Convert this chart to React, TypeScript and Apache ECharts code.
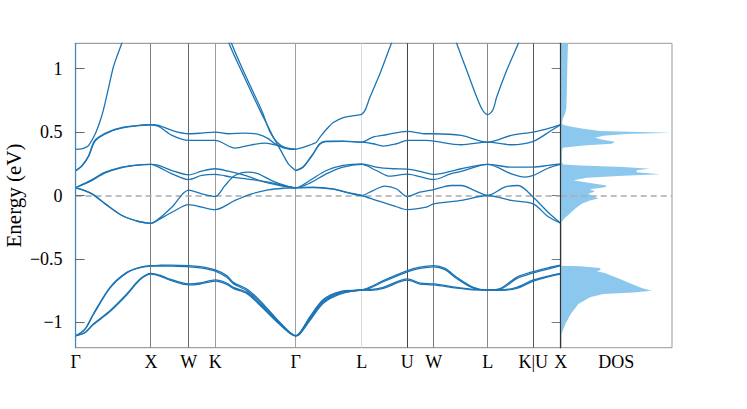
import React, { useEffect, useRef } from 'react';
import * as echarts from 'echarts';

// ---------- data ----------
const kTicks = [0, 0.754, 1.131, 1.397, 2.201, 2.861, 3.317, 3.581, 4.121, 4.577, 4.851];
const kLabels = ['Γ', 'X', 'W', 'K', 'Γ', 'L', 'U', 'W', 'L', 'K|U', 'X'];
const energyTicks = [-1, -0.5, 0, 0.5, 1];

const lowUpperA = [[0,-1.106],[0.094,-1.053],[0.177,-0.934],[0.344,-0.724],[0.511,-0.606],[0.644,-0.566],[0.754,-0.553],[0.85,-0.550],[0.95,-0.549],[1.131,-0.553],[1.244,-0.561],[1.397,-0.587],[1.511,-0.632],[1.577,-0.685],[1.711,-0.737],[1.844,-0.829],[2.011,-0.974],[2.144,-1.08],[2.201,-1.106],[2.244,-1.08],[2.344,-0.955],[2.477,-0.82],[2.644,-0.757],[2.861,-0.745],[2.944,-0.722],[3.077,-0.671],[3.317,-0.592],[3.444,-0.565],[3.581,-0.553],[3.694,-0.575],[3.811,-0.645],[3.977,-0.724],[4.121,-0.745],[4.244,-0.735],[4.411,-0.645],[4.577,-0.60],[4.724,-0.57],[4.851,-0.55]];
const lowUpperB = [[0,-1.106],[0.094,-1.055],[0.177,-0.94],[0.344,-0.73],[0.511,-0.61],[0.644,-0.569],[0.754,-0.556],[0.85,-0.556],[0.95,-0.557],[1.131,-0.562],[1.244,-0.57],[1.397,-0.596],[1.511,-0.645],[1.577,-0.695],[1.711,-0.75],[1.844,-0.842],[2.011,-0.982],[2.144,-1.083],[2.201,-1.106],[2.244,-1.083],[2.344,-0.965],[2.477,-0.83],[2.644,-0.764],[2.861,-0.745],[2.944,-0.73],[3.077,-0.68],[3.317,-0.602],[3.444,-0.575],[3.581,-0.563],[3.694,-0.585],[3.811,-0.655],[3.977,-0.73],[4.121,-0.745],[4.244,-0.74],[4.411,-0.655],[4.577,-0.61],[4.724,-0.58],[4.851,-0.553]];
const lowLowerA = [[0,-1.106],[0.094,-1.08],[0.177,-1.013],[0.344,-0.908],[0.511,-0.776],[0.644,-0.658],[0.754,-0.614],[0.85,-0.63],[0.944,-0.66],[1.131,-0.697],[1.244,-0.69],[1.397,-0.666],[1.511,-0.69],[1.577,-0.724],[1.711,-0.764],[1.844,-0.856],[2.011,-0.987],[2.144,-1.085],[2.201,-1.106],[2.244,-1.088],[2.344,-0.975],[2.477,-0.84],[2.644,-0.772],[2.861,-0.745],[2.944,-0.742],[3.077,-0.724],[3.317,-0.658],[3.444,-0.69],[3.581,-0.697],[3.811,-0.724],[3.977,-0.74],[4.121,-0.745],[4.244,-0.745],[4.411,-0.724],[4.577,-0.666],[4.724,-0.635],[4.851,-0.614]];
const lowLowerB = [[0,-1.106],[0.094,-1.082],[0.177,-1.018],[0.344,-0.915],[0.511,-0.785],[0.644,-0.665],[0.754,-0.62],[0.85,-0.637],[0.944,-0.668],[1.131,-0.705],[1.244,-0.698],[1.397,-0.675],[1.511,-0.7],[1.577,-0.732],[1.711,-0.772],[1.844,-0.865],[2.011,-0.995],[2.144,-1.088],[2.201,-1.106],[2.244,-1.09],[2.344,-0.985],[2.477,-0.85],[2.644,-0.778],[2.861,-0.745],[2.944,-0.748],[3.077,-0.732],[3.317,-0.668],[3.444,-0.698],[3.581,-0.705],[3.811,-0.73],[3.977,-0.743],[4.121,-0.745],[4.244,-0.748],[4.411,-0.732],[4.577,-0.675],[4.724,-0.642],[4.851,-0.62]];

const midA = [[0,0.061],[0.131,0.111],[0.297,0.184],[0.464,0.224],[0.631,0.242],[0.754,0.245],[0.831,0.237],[0.964,0.197],[1.131,0.163],[1.261,0.192],[1.397,0.211],[1.527,0.192],[1.694,0.158],[1.894,0.105],[2.094,0.071],[2.201,0.061],[2.341,0.118],[2.507,0.197],[2.674,0.237],[2.859,0.25],[3.007,0.224],[3.174,0.211],[3.317,0.208],[3.444,0.19],[3.581,0.166],[3.75,0.19],[3.857,0.211],[4.119,0.245],[4.357,0.224],[4.577,0.224],[4.724,0.237],[4.851,0.25]];
const midB = [[0,0.061],[0.131,0.105],[0.297,0.178],[0.464,0.22],[0.631,0.24],[0.754,0.245],[0.831,0.224],[0.964,0.171],[1.131,0.126],[1.261,0.158],[1.397,0.166],[1.561,0.145],[1.761,0.126],[1.927,0.105],[2.094,0.075],[2.201,0.061],[2.341,0.097],[2.507,0.171],[2.674,0.224],[2.859,0.245],[3.007,0.197],[3.141,0.152],[3.317,0.168],[3.507,0.135],[3.581,0.126],[3.75,0.17],[3.857,0.19],[4.119,0.245],[4.357,0.171],[4.491,0.145],[4.577,0.158],[4.724,0.215],[4.851,0.245]];
const midC = [[0,0.061],[0.064,0.047],[0.164,0.013],[0.297,-0.066],[0.464,-0.158],[0.631,-0.205],[0.754,-0.219],[0.831,-0.184],[0.964,-0.09],[1.131,0.042],[1.261,0.013],[1.397,-0.008],[1.494,0.079],[1.594,0.158],[1.727,0.184],[1.827,0.171],[1.961,0.118],[2.094,0.079],[2.201,0.061],[2.374,0.066],[2.574,0.053],[2.707,0.026],[2.859,0.0],[2.974,0.039],[3.091,0.074],[3.207,0.053],[3.317,-0.008],[3.441,0.026],[3.581,0.047],[3.757,0.079],[3.857,0.079],[3.991,0.039],[4.119,0.0],[4.291,0.066],[4.424,0.079],[4.577,-0.013],[4.724,-0.132],[4.851,-0.219]];
const midD = [[0,0.061],[0.064,0.047],[0.164,0.013],[0.297,-0.066],[0.464,-0.158],[0.631,-0.205],[0.754,-0.219],[0.831,-0.19],[0.964,-0.132],[1.131,-0.072],[1.261,-0.092],[1.397,-0.111],[1.594,-0.039],[1.761,0.013],[1.927,0.045],[2.094,0.058],[2.201,0.061],[2.374,0.062],[2.574,0.05],[2.707,0.025],[2.859,0.0],[3.007,-0.039],[3.174,-0.079],[3.317,-0.111],[3.507,-0.092],[3.581,-0.066],[3.857,-0.039],[4.119,0.0],[4.357,-0.039],[4.577,-0.066],[4.724,-0.166],[4.851,-0.219]];

const upSteepGX = [[0,0.363],[0.06,0.368],[0.1,0.38],[0.131,0.395],[0.197,0.487],[0.247,0.592],[0.277,0.671],[0.327,0.84],[0.377,1.011],[0.414,1.098],[0.461,1.198],[0.5,1.29]];
const upA = [[0,0.195],[0.064,0.237],[0.131,0.316],[0.181,0.421],[0.231,0.461],[0.364,0.513],[0.497,0.54],[0.631,0.553],[0.754,0.558],[0.831,0.553],[0.964,0.513],[1.131,0.487],[1.261,0.492],[1.397,0.5],[1.527,0.487],[1.694,0.492],[1.827,0.482],[1.927,0.448],[1.994,0.408],[2.094,0.377],[2.201,0.363]];
const upB = [[0,0.195],[0.064,0.232],[0.131,0.31],[0.181,0.41],[0.231,0.455],[0.364,0.51],[0.497,0.537],[0.631,0.551],[0.754,0.558],[0.831,0.545],[0.964,0.474],[1.131,0.434],[1.261,0.434],[1.397,0.434],[1.594,0.374],[1.761,0.40],[1.894,0.413],[1.994,0.40],[2.094,0.372],[2.201,0.363]];
const steepKG1 = [[1.504,1.3],[1.534,1.2],[1.689,0.93],[1.844,0.671],[1.927,0.54],[1.977,0.461],[2.061,0.342],[2.127,0.25],[2.164,0.221],[2.201,0.197]];
const steepKG2 = [[1.53,1.3],[1.559,1.2],[1.714,0.92],[1.864,0.665],[1.944,0.50],[2.014,0.42],[2.094,0.378],[2.201,0.363]];
const upGL = [[2.201,0.363],[2.311,0.39],[2.407,0.42],[2.444,0.461],[2.507,0.52],[2.577,0.575],[2.677,0.614],[2.78,0.63],[2.859,0.64],[2.894,0.671],[2.944,0.776],[3.044,0.961],[3.144,1.171],[3.2,1.28]];
const upC = [[2.201,0.197],[2.274,0.224],[2.374,0.329],[2.441,0.408],[2.507,0.429],[2.674,0.429],[2.859,0.421],[2.974,0.461],[3.107,0.479],[3.317,0.506],[3.507,0.487],[3.581,0.487],[3.857,0.474],[4.119,0.421],[4.357,0.474],[4.577,0.50],[4.724,0.527],[4.851,0.558]];
const upD = [[2.201,0.197],[2.274,0.222],[2.374,0.325],[2.441,0.403],[2.507,0.425],[2.674,0.427],[2.859,0.421],[2.974,0.408],[3.074,0.39],[3.207,0.408],[3.317,0.434],[3.507,0.434],[3.581,0.429],[3.857,0.40],[4.119,0.421],[4.357,0.40],[4.577,0.427],[4.757,0.513],[4.851,0.558]];
const upParabola = [[3.78,1.27],[3.811,1.198],[3.911,0.987],[4.011,0.776],[4.071,0.672],[4.121,0.637],[4.171,0.672],[4.211,0.776],[4.311,0.987],[4.427,1.198],[4.46,1.27]];

const bands = [lowUpperA, lowUpperB, lowLowerA, lowLowerB, midA, midB, midC, midD, upSteepGX, upA, upB, steepKG1, steepKG2, upGL, upC, upD, upParabola];

// DOS: [energy (eV), density (arb.)]
const dosCurve = [[1.2,0.66],[1.04,0.6],[0.908,0.57],[0.777,0.54],[0.685,0.51],[0.645,0.39],[0.606,0.18],[0.571,0.12],[0.558,0.18],[0.545,0.84],[0.527,2.04],[0.508,3.53],[0.495,9.97],[0.484,5.93],[0.471,3.83],[0.455,3.08],[0.442,3.68],[0.424,4.88],[0.408,4.58],[0.395,2.04],[0.377,0.18],[0.329,0.09],[0.264,0.09],[0.245,0.24],[0.237,1.74],[0.224,5.63],[0.211,8.02],[0.2,6.83],[0.184,6.83],[0.168,8.92],[0.155,5.63],[0.14,2.34],[0.121,1.14],[0.103,2.34],[0.079,4.13],[0.066,3.98],[0.05,2.63],[0.032,3.08],[0.013,2.49],[-0.005,2.93],[-0.024,3.38],[-0.04,2.63],[-0.066,1.89],[-0.105,1.29],[-0.145,0.78],[-0.184,0.3],[-0.219,0],[-0.553,0],[-0.558,1.74],[-0.571,3.53],[-0.587,3.59],[-0.598,3.23],[-0.611,3.98],[-0.632,4.58],[-0.658,5.33],[-0.698,6.38],[-0.729,7.28],[-0.75,8.17],[-0.764,6.53],[-0.777,3.83],[-0.803,2.63],[-0.856,1.59],[-0.935,0.9],[-1.014,0.42],[-1.08,0.12],[-1.106,0]];

// ---------- styles ----------
const FONT = 'Liberation Serif';
const BAND_COLOR = '#1b75b5';
const DOS_COLOR = '#8cc8ee';
const symLineColors = ['', '#808080', '#666666', '#9a9a9a', '#a0a0a0', '#dcdcdc', '#444444', '#777777', '#888888', '#555555', ''];

function fmtE(v: number) {
  return v < 0 ? '\u2212' + Math.abs(v) : String(v);
}
function kLabel(v: number) {
  let best = 0;
  for (let i = 1; i < kTicks.length; i++) if (Math.abs(kTicks[i] - v) < Math.abs(kTicks[best] - v)) best = i;
  return kLabels[best];
}

export default function App() {
  const ref = useRef<HTMLDivElement>(null);
  useEffect(() => {
    const chart = echarts.init(ref.current!, null, { renderer: 'svg' });
    const kMax = kTicks[kTicks.length - 1];
    const symLines = kTicks
      .map((k, i) => ({ k, c: symLineColors[i] }))
      .filter((d) => d.c)
      .map((d) => ({ xAxis: d.k, lineStyle: { color: d.c, width: 1, type: 'solid' } }));

    const txt = { fontFamily: FONT, fontWeight: 'normal', color: '#000' };
    const option: any = {
      animation: false,
      backgroundColor: '#ffffff',
      textStyle: { fontFamily: FONT, fontWeight: 'normal' },
      grid: [
        { left: 75.6, top: 43.3, width: 485.1, height: 304.4, show: true, borderColor: '#888', borderWidth: 1, containLabel: false, outerBoundsMode: 'none' },
        { left: 560.7, top: 43.3, width: 111.3, height: 304.4, show: true, borderColor: '#999', borderWidth: 1, containLabel: false, outerBoundsMode: 'none' },
      ],
      xAxis: [
        {
          gridIndex: 0, type: 'value', min: 0, max: kMax,
          axisLine: { show: false },
          axisTick: { show: false },
          splitLine: { show: false },
          axisLabel: {
            customValues: kTicks, formatter: (v: number) => kLabel(v),
            ...txt, fontSize: 18, margin: 5, hideOverlap: false,
          },
        },
        {
          gridIndex: 1, type: 'value', min: 0, max: 10,
          axisLine: { show: false }, axisTick: { show: false }, axisLabel: { show: false }, splitLine: { show: false },
          name: 'DOS', nameLocation: 'middle', nameGap: 5, nameMoveOverlap: false,
          nameTextStyle: { ...txt, fontSize: 18, verticalAlign: 'top' },
        },
      ],
      yAxis: [
        {
          gridIndex: 0, type: 'value', min: -1.2, max: 1.2, position: 'left', z: 5,
          axisLine: { show: true, lineStyle: { color: '#3b87c2', width: 1.2 } },
          axisTick: { show: true, inside: true, length: 9, customValues: energyTicks, lineStyle: { color: '#666' } },
          axisLabel: { customValues: energyTicks, formatter: fmtE, ...txt, fontSize: 18, margin: 13 },
          splitLine: { show: false },
          name: 'Energy (eV)', nameLocation: 'middle', nameGap: 51, nameRotate: 90, nameMoveOverlap: false,
          nameTextStyle: { ...txt, fontSize: 21 },
        },
        {
          gridIndex: 0, type: 'value', min: -1.2, max: 1.2, position: 'right',
          axisLine: { show: false },
          axisTick: { show: true, inside: true, length: 9, customValues: energyTicks, lineStyle: { color: '#777' } },
          axisLabel: { show: false }, splitLine: { show: false },
        },
        {
          gridIndex: 1, type: 'value', min: -1.2, max: 1.2, position: 'left', z: 5,
          axisLine: { show: true, lineStyle: { color: '#333', width: 1.2 } },
          axisTick: { show: false }, axisLabel: { show: false }, splitLine: { show: false },
        },
      ],
      series: [
        {
          type: 'line', xAxisIndex: 0, yAxisIndex: 0, data: [], silent: true, z: 1,
          markLine: {
            silent: true, symbol: 'none', z: 1, animation: false, label: { show: false },
            data: [
              ...symLines,
              { yAxis: 0, lineStyle: { color: '#aaaaaa', width: 1.5, type: [6, 4] } },
            ],
          },
        },
        {
          type: 'line', xAxisIndex: 1, yAxisIndex: 2, data: [], silent: true, z: 1,
          markLine: {
            silent: true, symbol: 'none', z: 3, animation: false, label: { show: false },
            data: [{ yAxis: 0, lineStyle: { color: '#aaaaaa', width: 1.5, type: [6, 4] } }],
          },
        },
        {
          type: 'custom', xAxisIndex: 1, yAxisIndex: 2, z: 2, silent: true, clip: true,
          data: dosCurve.map((d) => [d[1], d[0]]),
          encode: { x: 0, y: 1 },
          renderItem: (params: any, api: any) => {
            if (params.dataIndex !== 0) return null;
            const pts: number[][] = [];
            pts.push(api.coord([0, dosCurve[0][0]]));
            dosCurve.forEach((d) => pts.push(api.coord([d[1], d[0]])));
            pts.push(api.coord([0, dosCurve[dosCurve.length - 1][0]]));
            return { type: 'polygon', shape: { points: pts }, style: { fill: DOS_COLOR, stroke: 'none' } };
          },
        },
        ...bands.map((b) => ({
          type: 'line', xAxisIndex: 0, yAxisIndex: 0, data: b, symbol: 'none', showSymbol: false,
          smooth: 0.3, clip: true, silent: true, z: 4,
          lineStyle: { color: BAND_COLOR, width: 1.3 },
        })),
      ],
    };
    chart.setOption(option);
    return () => chart.dispose();
  }, []);
  return <div ref={ref} style={{ position: 'fixed', left: 0, top: 0, width: 747, height: 409 }} />;
}
